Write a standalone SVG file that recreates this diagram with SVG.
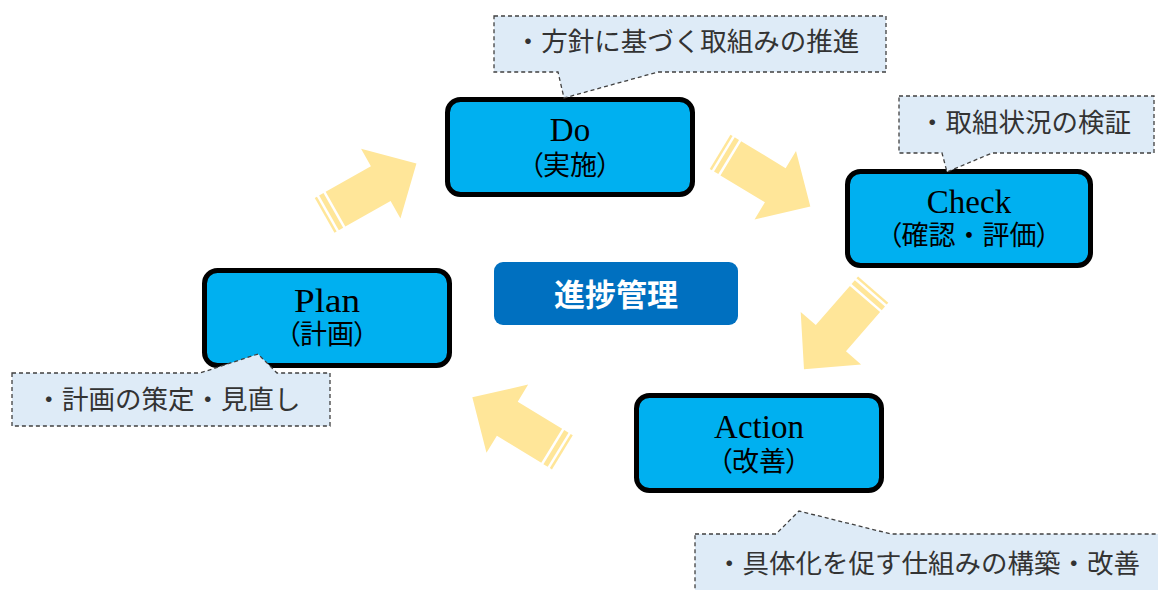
<svg xmlns="http://www.w3.org/2000/svg" width="1158" height="590" viewBox="0 0 1158 590">
<style>
.box{fill:#00B0F0;stroke:#000;stroke-width:5}
.lat{font-family:"Liberation Serif","Times New Roman",serif;font-size:33px;fill:#000;text-anchor:middle}
.jp{font-family:"Noto Sans CJK JP","Noto Sans",sans-serif;font-size:27px;fill:#000;text-anchor:middle}
.p{font-feature-settings:"palt"}
.call{fill:#DEEBF7;stroke:#404040;stroke-width:1.3;stroke-dasharray:4 3}
.ct{font-family:"Noto Sans CJK JP","Noto Sans",sans-serif;font-size:26.5px;fill:#333}
.arr{fill:#FFE699}
</style>
<defs>
<g id="sarrow">
<path d="M0,-20 L52,-20 L52,-40 L93,0 L52,40 L52,20 L0,20 Z"/>
<rect x="-7.5" y="-20" width="5" height="40"/>
<rect x="-12.5" y="-20" width="2.5" height="40"/>
</g>
</defs>
<rect width="1158" height="590" fill="#fff"/>
<g id="connectors" class="arr">
<use href="#sarrow" transform="translate(335.5,209.2) rotate(-29.5)"/>
<use href="#sarrow" transform="translate(730.8,158.3) rotate(31.2)"/>
<use href="#sarrow" transform="translate(865,299) rotate(131)"/>
<use href="#sarrow" transform="translate(551.7,445.8) rotate(-148.6)"/>
</g>
<g id="center">
<rect x="494" y="262" width="244" height="63" rx="9" fill="#0070C0"/>
<text x="616" y="306" font-family="'Noto Sans CJK JP','Noto Sans',sans-serif" font-size="31" font-weight="bold" fill="#fff" text-anchor="middle">進捗管理</text>
</g>
<g id="do">
<rect class="box" x="447.5" y="99.5" width="245" height="95" rx="13"/>
<text class="lat" x="570" y="141">Do</text>
<text class="jp" x="570" y="175"><tspan class="p">（</tspan>実施<tspan class="p">）</tspan></text>
</g>
<g id="check">
<rect class="box" x="847.5" y="171.5" width="243" height="94" rx="13"/>
<text class="lat" x="969" y="213">Check</text>
<text class="jp" x="969" y="245"><tspan class="p">（</tspan>確認・評価<tspan class="p">）</tspan></text>
</g>
<g id="plan">
<rect class="box" x="204.5" y="270.5" width="245" height="95" rx="13"/>
<text class="lat" x="327" y="312" textLength="66" lengthAdjust="spacingAndGlyphs">Plan</text>
<text class="jp" x="327" y="344"><tspan class="p">（</tspan>計画<tspan class="p">）</tspan></text>
</g>
<g id="action">
<rect class="box" x="636.5" y="395.5" width="245" height="95" rx="13"/>
<text class="lat" x="759" y="438">Action</text>
<text class="jp" x="759" y="471"><tspan class="p">（</tspan>改善<tspan class="p">）</tspan></text>
</g>
<g id="callout-do">
<path class="call" d="M494,16 L886,16 L886,72 L658,72 L564,98 L558,72 L494,72 Z"/>
<text class="ct" x="687" y="51" text-anchor="middle">・方針に基づく取組みの推進</text>
</g>
<g id="callout-check">
<path class="call" d="M899,96 L1154,96 L1154,153 L992,153 L947,172 L942,153 L899,153 Z"/>
<text class="ct" x="1025" y="132" text-anchor="middle">・取組状況の検証</text>
</g>
<g id="callout-plan">
<path class="call" d="M12,373 L200,373 L258,354 L277,373 L330,373 L330,426 L12,426 Z"/>
<text class="ct" x="168" y="409" text-anchor="middle">・計画の策定・見直し</text>
</g>
<g id="callout-action">
<path class="call" d="M695,534 L776,534 L799,511 L891,534 L1175,534 L1175,600 L695,600 Z"/>
<text class="ct" x="716" y="573">・具体化を促す仕組みの構築・改善</text>
</g>
</svg>
